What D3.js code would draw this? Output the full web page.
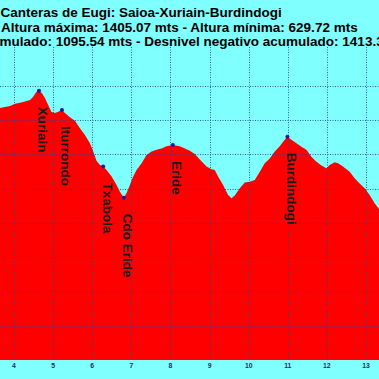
<!DOCTYPE html>
<html><head><meta charset="utf-8">
<script src="https://cdn.jsdelivr.net/npm/d3@7"></script>
<style>html,body{margin:0;padding:0;background:#80ffff;overflow:hidden}</style>
</head><body><svg id="c" width="379" height="379"></svg>
<script>
const titleLine1 = "Canteras de Eugi: Saioa-Xuriain-Burdindogi";
const titleLine2 = "Altura máxima: 1405.07 mts - Altura mínima: 629.72 mts";
const titleLine3 = "Desnivel positivo acumulado: 1095.54 mts - Desnivel negativo acumulado: 1413.36 mts";
const line3HiddenPrefix = "Desnivel positivo acu";

const xTicks = [4,5,6,7,8,9,10,11,12,13];
const yGrid = [700,800,900,1000,1100,1200,1300,1400];

const profileKm = [3.59,3.642,3.898,4.026,4.153,4.281,4.409,4.485,4.575,4.639,4.715,4.792,4.868,4.958,5.047,5.132,5.226,5.303,5.430,5.558,5.686,5.814,5.941,6.026,6.112,6.197,6.281,6.366,6.496,6.623,6.708,6.810,6.879,6.963,7.047,7.134,7.262,7.389,7.517,7.645,7.773,7.900,8.061,8.240,8.368,8.496,8.623,8.751,8.922,9.050,9.134,9.218,9.346,9.474,9.561,9.645,9.773,9.900,10.028,10.156,10.284,10.411,10.539,10.667,10.794,10.922,10.991,11.093,11.221,11.349,11.476,11.604,11.732,11.860,11.987,12.071,12.199,12.284,12.411,12.582,12.710,12.838,12.966,13.093,13.221,13.323,13.40];
const profileEle = [1333,1335,1341,1347,1350,1354,1358,1367,1382,1385,1378,1364,1345,1323,1320,1324,1329,1320,1308,1298,1276,1256,1232,1208,1180,1169,1164,1154,1135,1110,1091,1073,1087,1110,1135,1154,1174,1198,1208,1213,1217,1223,1227,1223,1217,1210,1201,1185,1164,1156,1154,1135,1110,1081,1072,1080,1101,1118,1120,1125,1149,1174,1188,1208,1223,1242,1251,1242,1232,1222,1213,1193,1178,1167,1159,1169,1177,1174,1164,1149,1130,1115,1101,1081,1057,1042,1032];

const waypointNames = ["Xuriain","Iturrondo","Txabola","Cdo Eride","Eride","Burdindogi"];
const waypointKm = [4.639,5.226,6.281,6.810,8.061,10.991];
const waypointEle = [1385,1329,1164,1073,1227,1251];

const W = 379, H = 379;
const plotTop = 47, plotBottom = 360;
const svg = d3.select("#c");
const x = d3.scaleLinear().domain([4,13]).range([14,366]);
const y = d3.scaleLinear().domain([600,1500]).range([plotBottom, plotBottom - 9*34.29]);

svg.append("rect").attr("width",W).attr("height",H).attr("fill","#80ffff");

const pts = profileKm.map((k,i)=>({k, e: profileEle[i]}));
const area = d3.area().x(d=>x(d.k)).y0(y(600)).y1(d=>y(d.e));
svg.append("path").datum(pts).attr("d",area).attr("fill","#ff0000");

// grid
const grid = svg.append("g").attr("stroke","#2a4596").attr("stroke-width",1).attr("stroke-dasharray","1,1.5").attr("opacity",0.85);
grid.selectAll("line.v").data(xTicks).join("line").attr("class","v")
  .attr("x1",d=>Math.round(x(d))+0.5).attr("x2",d=>Math.round(x(d))+0.5)
  .attr("y1",plotTop).attr("y2",plotBottom);
grid.selectAll("line.h").data(yGrid).join("line").attr("class","h")
  .attr("x1",0).attr("x2",W)
  .attr("y1",d=>Math.round(y(d))+0.5).attr("y2",d=>Math.round(y(d))+0.5);

// waypoint dots and labels
const wps = waypointNames.map((n,i)=>({n, k: waypointKm[i], e: waypointEle[i]}));
svg.selectAll("circle.wp").data(wps).join("circle").attr("class","wp")
  .attr("cx",d=>x(d.k)).attr("cy",d=>y(d.e)).attr("r",2).attr("fill","#1a1aa0");
svg.selectAll("text.wp").data(wps).join("text").attr("class","wp")
  .attr("transform",d=>`translate(${x(d.k)-0.5},${y(d.e)+16}) rotate(90)`)
  .attr("font-family","'Liberation Sans', Arial, sans-serif")
  .attr("font-weight","bold").attr("font-size",13.5).attr("fill","#1a1a1a")
  .text(d=>d.n);

// x tick labels
svg.selectAll("text.tick").data(xTicks).join("text").attr("class","tick")
  .attr("x",d=>x(d)).attr("y",367.5).attr("text-anchor","middle")
  .attr("font-family","'Liberation Sans', Arial, sans-serif")
  .attr("font-weight","bold").attr("font-size",6.8).attr("fill","#1f2f60")
  .text(d=>d);

// titles
const tg = svg.append("g").attr("font-family","'Liberation Sans', Arial, sans-serif")
  .attr("font-weight","bold").attr("font-size",13.5).attr("fill","#000");
tg.append("text").attr("x",0.5).attr("y",16.5).text(titleLine1);
tg.append("text").attr("x",1).attr("y",32).text(titleLine2);
const t3 = tg.append("text").attr("y",45.5).text(titleLine3);
const tmp = tg.append("text").attr("x",0).attr("y",-100).text(line3HiddenPrefix);
const pw = tmp.node().getComputedTextLength();
tmp.remove();
t3.attr("x",-pw-0.5);
</script>
</body></html>
